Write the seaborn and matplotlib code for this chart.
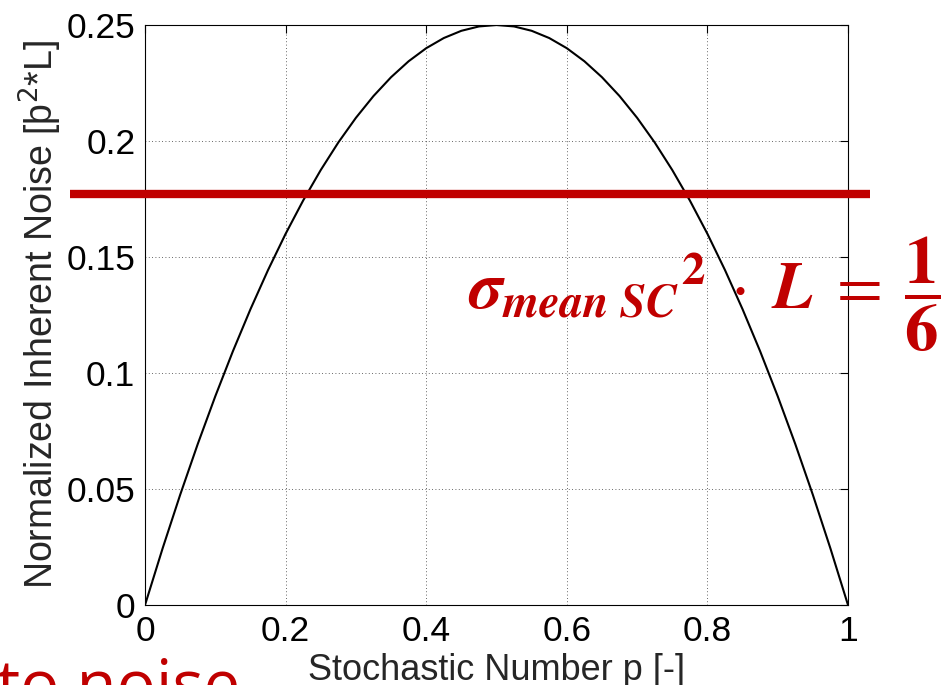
import matplotlib
matplotlib.use("Agg")
import matplotlib.pyplot as plt
import seaborn as sns
import pandas as pd

# stochastic number p and normalized inherent noise
p_values = [0.0, 0.025, 0.05, 0.075, 0.1, 0.125, 0.15, 0.175, 0.2, 0.225,
            0.25, 0.275, 0.3, 0.325, 0.35, 0.375, 0.4, 0.425, 0.45, 0.475,
            0.5, 0.525, 0.55, 0.575, 0.6, 0.625, 0.65, 0.675, 0.7, 0.725,
            0.75, 0.775, 0.8, 0.825, 0.85, 0.875, 0.9, 0.925, 0.95, 0.975, 1.0]
noise_values = [0.0, 0.02438, 0.0475, 0.06938, 0.09, 0.10938, 0.1275, 0.14438, 0.16, 0.17438,
                0.1875, 0.19938, 0.21, 0.21938, 0.2275, 0.23438, 0.24, 0.24438, 0.2475, 0.24938,
                0.25, 0.24938, 0.2475, 0.24438, 0.24, 0.23438, 0.2275, 0.21938, 0.21, 0.19938,
                0.1875, 0.17438, 0.16, 0.14438, 0.1275, 0.10938, 0.09, 0.06938, 0.0475, 0.02438, 0.0]

# red mean level line (runs past the axes on both sides)
mean_level = 0.177
mean_line_x = [-0.107, 1.031]

x_ticks = [0, 0.2, 0.4, 0.6, 0.8, 1]
x_tick_labels = ["0", "0.2", "0.4", "0.6", "0.8", "1"]
y_ticks = [0, 0.05, 0.1, 0.15, 0.2, 0.25]
y_tick_labels = ["0", "0.05", "0.1", "0.15", "0.2", "0.25"]

red = "#C00000"

sns.set_style("white")
plt.rcParams["font.family"] = ["Liberation Sans", "DejaVu Sans"]

df = pd.DataFrame({"p": p_values, "noise": noise_values})

fig = plt.figure(figsize=(9.46, 6.85), dpi=100)
ax = fig.add_axes([0.1533, 0.1168, 0.7431, 0.8467])

sns.lineplot(data=df, x="p", y="noise", color="black", linewidth=1.5, ax=ax)

ax.plot(mean_line_x, [mean_level, mean_level], color=red, linewidth=6,
        solid_capstyle="butt", clip_on=False, zorder=5)

ax.set_xlim(0, 1)
ax.set_ylim(0, 0.25)
ax.set_xticks(x_ticks)
ax.set_xticklabels(x_tick_labels)
ax.set_yticks(y_ticks)
ax.set_yticklabels(y_tick_labels)
ax.tick_params(direction="in", length=6, width=0.8, labelsize=25.5,
               top=True, right=True, colors="black", pad=7)
ax.grid(True, linestyle=(0, (1, 3)), color="black", linewidth=0.6, alpha=0.8)
for s in ax.spines.values():
    s.set_color("black")
    s.set_linewidth(0.8)

ax.set_xlabel("Stochastic Number p [-]", fontsize=26, labelpad=4)
ax.set_ylabel("Normalized Inherent Noise [þ$^{2}$*L]", fontsize=27, labelpad=2)

fig.text(0.495, 0.549,
         r"$\mathbfit{\sigma}_{\mathbfit{mean\ SC}}{}^{\mathbf{2}}\;\cdot\;\mathbfit{L}\;=\;\dfrac{\mathbf{1}}{\mathbf{6}}$",
         fontsize=48, color=red, math_fontfamily="stix", ha="left", va="baseline")

fig.text(-0.003, -0.031, "to noise", fontsize=47, color=red,
         family=["Open Sans", "DejaVu Sans"], ha="left", va="baseline")

fig.savefig("out.png", dpi=100)
